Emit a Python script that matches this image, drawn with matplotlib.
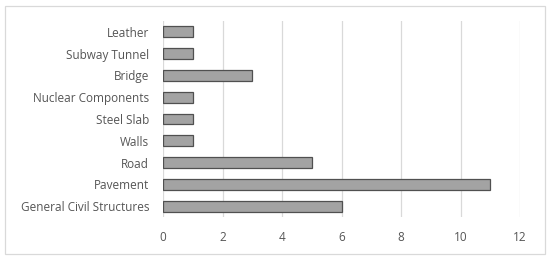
import matplotlib.pyplot as plt
from matplotlib.patches import Rectangle

categories = ['General Civil Structures', 'Pavement', 'Road', 'Walls', 'Steel Slab',
              'Nuclear Components', 'Bridge', 'Subway Tunnel', 'Leather']
counts = [6, 11, 5, 1, 1, 1, 3, 1, 1]

plt.rcParams['font.family'] = ['Open Sans', 'DejaVu Sans']
txt = '#555555'

fig = plt.figure(figsize=(5.5, 2.59), dpi=100)
ax = fig.add_axes([163 / 550, 1 - 217 / 259, 357 / 550, 196 / 259])

ax.barh(range(len(categories)), counts, height=0.5, color='#a3a3a3',
        edgecolor='#505050', linewidth=0.9, zorder=3)

ax.set_xlim(0, 12)
ax.set_ylim(-0.5, len(categories) - 0.5)
ax.set_xticks(range(0, 13, 2))
ax.set_yticks(range(len(categories)))
ax.set_yticklabels(categories)
ax.grid(axis='x', color='#d9d9d9', linewidth=0.9, zorder=0)
for s in ax.spines.values():
    s.set_visible(False)
ax.tick_params(length=0, labelsize=8.5, colors=txt)
ax.tick_params(axis='y', pad=10)
ax.tick_params(axis='x', pad=10)

# outer frame
fig.patches.append(Rectangle((5 / 550, 5 / 259), 540 / 550, 248 / 259,
                             transform=fig.transFigure, fill=False,
                             edgecolor='#d9d9d9', linewidth=0.9))

fig.savefig('out.png', dpi=100)
